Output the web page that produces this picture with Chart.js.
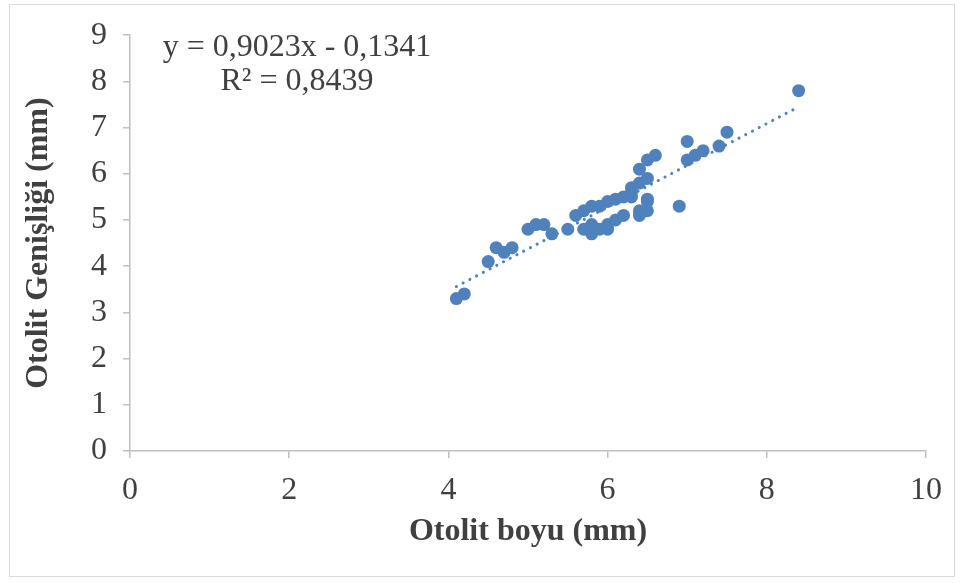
<!DOCTYPE html>
<html><head><meta charset="utf-8">
<script src="https://cdn.jsdelivr.net/npm/chart.js@4/dist/chart.umd.min.js"></script>
<style>
html,body{margin:0;padding:0;background:#fff;}
#wrap{position:relative;width:965px;height:583px;}
#frame{position:absolute;left:9px;top:4px;width:946px;height:573px;border:1px solid #d9d9d9;box-sizing:border-box;pointer-events:none;}
#eq{position:absolute;left:137px;top:28px;width:320px;text-align:center;font-family:"Liberation Serif","Times New Roman",serif;font-size:32px;line-height:34px;color:#404040;}
canvas{position:absolute;left:0;top:0;}
</style></head>
<body>
<div id="wrap">
<canvas id="c" width="965" height="583"></canvas>
<div id="frame"></div>
<div id="eq">y = 0,9023x - 0,1341<br>R² = 0,8439</div>
</div>
<script>
const otolitBoyu = [4.1,4.2,4.5,4.6,4.7,4.8,5.0,5.1,5.2,5.3,5.5,5.6,5.7,5.7,5.8,5.8,5.8,5.9,5.9,6.0,6.0,6.0,6.1,6.1,6.2,6.2,6.3,6.3,6.3,6.4,6.4,6.4,6.4,6.5,6.5,6.5,6.5,6.5,6.6,6.9,7.0,7.0,7.1,7.2,7.4,7.5,8.4];
const otolitGenisligi = [3.3,3.4,4.1,4.4,4.3,4.4,4.8,4.9,4.9,4.7,4.8,5.1,5.2,4.8,5.3,4.7,4.9,5.3,4.8,5.4,4.8,4.9,5.45,5.0,5.5,5.1,5.7,5.6,5.5,6.1,5.8,5.2,5.1,6.3,5.9,5.45,5.4,5.2,6.4,5.3,6.7,6.3,6.4,6.5,6.6,6.9,7.8];
const trendX = [4.1, 8.4];
const trendY = [3.56, 7.45];
const xTicks = [0,2,4,6,8,10];
const yTicks = [0,1,2,3,4,5,6,7,8,9];

const pts = otolitBoyu.map((x,i)=>({x:x,y:otolitGenisligi[i]}));
const trend = trendX.map((x,i)=>({x:x,y:trendY[i]}));
const blue = '#4f81bd';
const axisGrey = '#bfbfbf';
const serif = '"Liberation Serif","Times New Roman",serif';

new Chart(document.getElementById('c'), {
  type: 'scatter',
  data: {datasets: [
    {label:'data', data: pts, backgroundColor: blue, borderColor: blue, pointRadius: 6.5, pointHoverRadius: 6.5, borderWidth: 0, order: 1},
    {label:'trend', type:'line', data: trend, borderColor: blue, borderWidth: 3, borderDash:[0.1,7.5], borderCapStyle:'round', pointRadius:0, fill:false, order: 2}
  ]},
  options: {
    responsive: false, animation: false,
    layout: {padding: {left: 10, right: 39, top: 33, bottom: 28}},
    plugins: {legend: {display:false}, tooltip: {enabled:false}},
    scales: {
      x: {
        type:'linear', min: 0, max: 10,
        afterBuildTicks: s => { s.ticks = xTicks.map(v=>({value:v})); },
        afterFit: s => { s.height = 104; },
        border: {color: axisGrey, width: 1.5},
        grid: {drawOnChartArea:false, drawTicks:true, tickLength:7, color: axisGrey, lineWidth:1.5},
        ticks: {color:'#404040', font:{family: serif, size: 32}, padding: 13},
        title: {display:true, text:'Otolit boyu (mm)', color:'#404040', font:{family: serif, size: 32, weight:'bold'}, padding:{top:2, bottom:4}}
      },
      y: {
        type:'linear', min: 0, max: 9,
        afterBuildTicks: s => { s.ticks = yTicks.map(v=>({value:v})); },
        afterFit: s => { s.width = 120; },
        border: {color: axisGrey, width: 1.5},
        grid: {drawOnChartArea:false, drawTicks:true, tickLength:7, color: axisGrey, lineWidth:1.5},
        ticks: {color:'#404040', font:{family: serif, size: 32}, padding: 16},
        title: {display:true, text:'Otolit Genişliği (mm)', color:'#404040', font:{family: serif, size: 32, weight:'bold'}, padding:{bottom:0, top:10}}
      }
    }
  }
});
</script>
</body></html>
